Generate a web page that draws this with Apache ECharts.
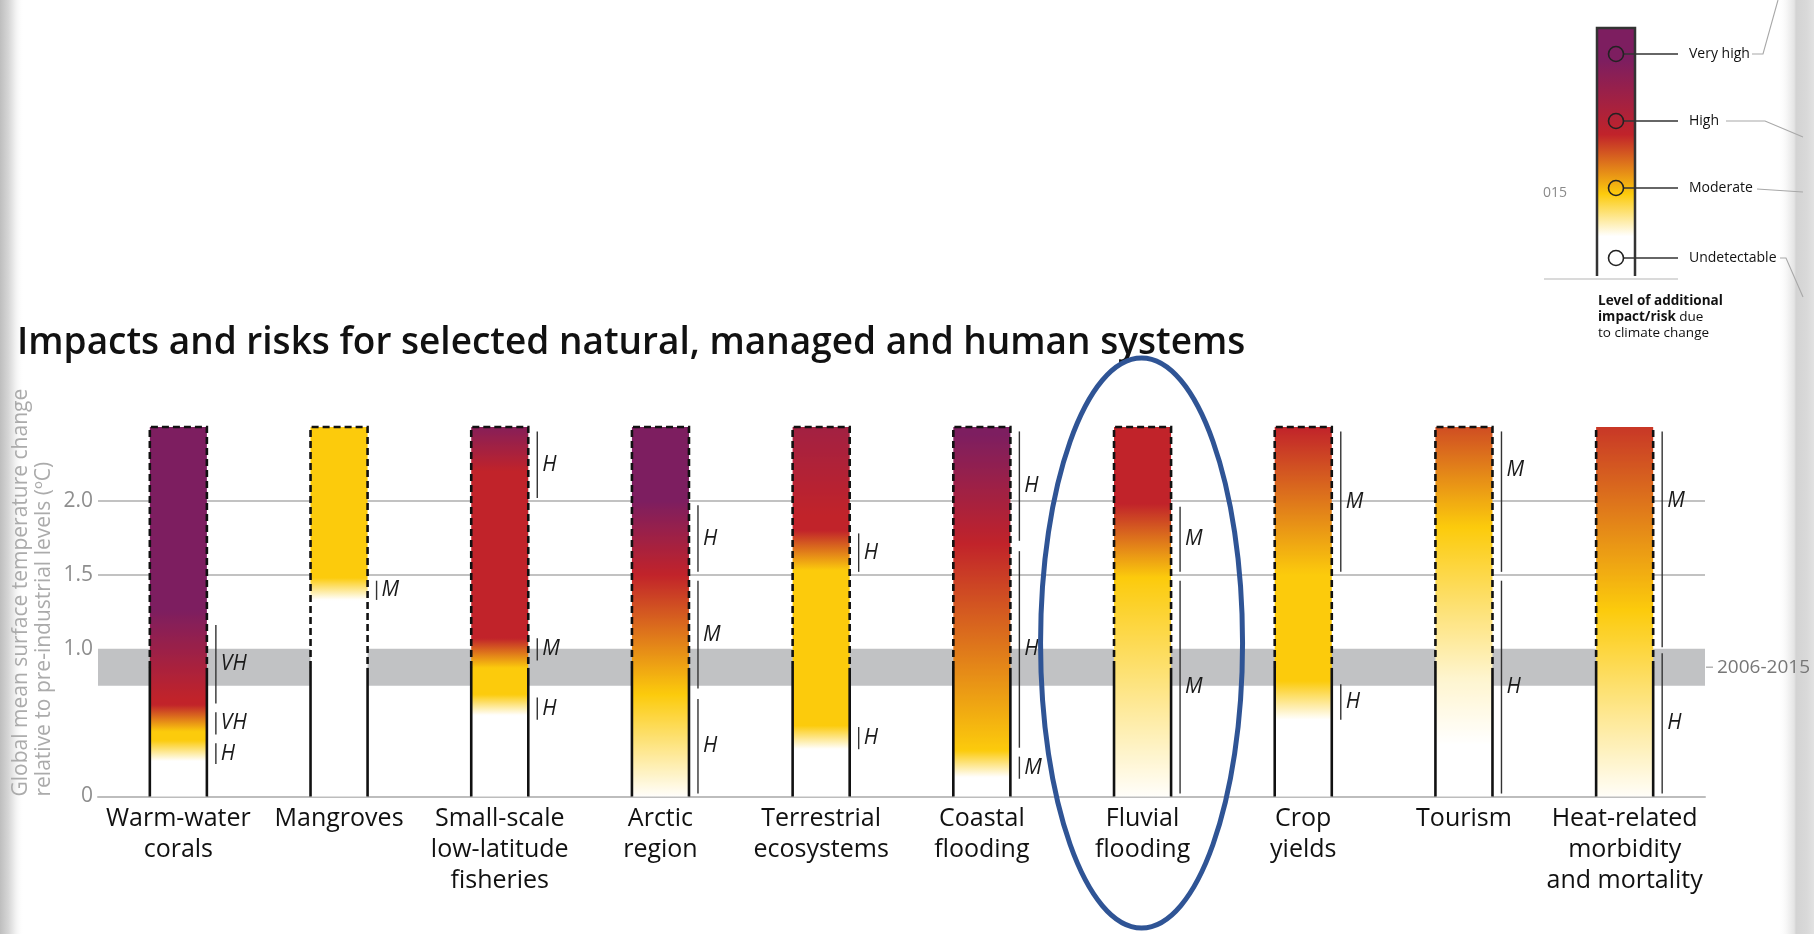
<!DOCTYPE html>
<html><head><meta charset="utf-8">
<script src="https://cdn.jsdelivr.net/npm/echarts@6/dist/echarts.min.js"></script>
<style>html,body{margin:0;padding:0;background:#fff;overflow:hidden}#c{width:1814px;height:934px}</style>
</head><body><div id="c"></div>
<script>
// ---------------- DATA ----------------
const categories = ['Warm-water\ncorals', 'Mangroves', 'Small-scale\nlow-latitude\nfisheries', 'Arctic\nregion',
  'Terrestrial\necosystems', 'Coastal\nflooding', 'Fluvial\nflooding', 'Crop\nyields', 'Tourism',
  'Heat-related\nmorbidity\nand mortality'];
const yTickValues = [0, 1.0, 1.5, 2.0];
const yTickLabels = ['0', '1.0', '1.5', '2.0'];
const gridLineValues = [1.5, 2.0];
const observedRange = [0.75, 1.0];
const observedMean = 0.87;
const observedLabel = '2006-2015';
const barTop = 2.5;
const riskLevels = ['Undetectable', 'Moderate', 'High', 'Very high'];
const closedTop = [true, true, true, true, true, true, true, true, true, false];

// risk level along temperature: [°C, level] (0 undetectable, 1 moderate, 2 high, 3 very high)
const coralsRisk = [[0.24, 0], [0.38, 1], [0.44, 1], [0.62, 2], [0.66, 2], [1.26, 3]];
const mangrovesRisk = [[1.33, 0], [1.48, 1]];
const fisheriesRisk = [[0.55, 0], [0.69, 1], [0.87, 1], [1.07, 2], [2.2, 2], [2.5, 2.85]];
const arcticRisk = [[0, 0.02], [0.69, 1], [1.5, 2], [2.0, 3]];
const terrestrialRisk = [[0.32, 0], [0.48, 1], [1.53, 1], [1.8, 2], [1.9, 2], [2.5, 2.45]];
const coastalRisk = [[0.13, 0], [0.31, 1], [1.71, 2], [2.45, 3]];
const fluvialRisk = [[0, 0.02], [1.48, 1], [1.98, 2]];
const cropRisk = [[0.52, 0], [0.78, 1], [1.5, 1], [2.5, 2]];
const tourismRisk = [[0.35, 0], [0.8, 0.2], [1.82, 1], [2.5, 1.75]];
const heatRisk = [[0, 0.03], [0.58, 0.47], [1.26, 1], [2.5, 1.88]];
const riskStops = [coralsRisk, mangrovesRisk, fisheriesRisk, arcticRisk, terrestrialRisk,
  coastalRisk, fluvialRisk, cropRisk, tourismRisk, heatRisk];

// transition ranges with confidence: [from °C, to °C, confidence, (label at °C)]
const coralsConf = [[0.63, 1.16, 'VH'], [0.42, 0.57, 'VH'], [0.22, 0.36, 'H']];
const mangrovesConf = [[1.33, 1.46, 'M']];
const fisheriesConf = [[2.02, 2.47, 'H'], [0.92, 1.07, 'M'], [0.52, 0.67, 'H']];
const arcticConf = [[1.52, 1.97, 'H'], [0.73, 1.46, 'M'], [0.02, 0.66, 'H']];
const terrestrialConf = [[1.52, 1.78, 'H'], [0.32, 0.47, 'H']];
const coastalConf = [[1.73, 2.47, 'H'], [0.33, 1.66, 'H'], [0.12, 0.27, 'M']];
const fluvialConf = [[1.52, 1.96, 'M'], [0.02, 1.46, 'M']];
const cropConf = [[1.52, 2.47, 'M'], [0.52, 0.76, 'H']];
const tourismConf = [[1.52, 2.47, 'M', 2.21], [0.02, 1.46, 'H']];
const heatConf = [[1.01, 2.47, 'M', 2.0], [0.02, 0.97, 'H']];
const confidenceRanges = [coralsConf, mangrovesConf, fisheriesConf, arcticConf, terrestrialConf,
  coastalConf, fluvialConf, cropConf, tourismConf, heatConf];

const highlightedCategory = 6;

// ---------------- STYLE HELPERS ----------------
const levelColors = [[255, 255, 255], [252, 203, 12], [193, 35, 42], [125, 30, 96]];
function levelColor(l) {
  l = Math.max(0, Math.min(3, l));
  const i = Math.min(2, Math.floor(l)), t = l - i;
  const a = levelColors[i], b = levelColors[i + 1];
  const c = a.map((v, k) => Math.round(v + (b[k] - v) * t));
  return 'rgb(' + c.join(',') + ')';
}
function levelAt(stops, t) {
  if (t <= stops[0][0]) return stops[0][1];
  const last = stops[stops.length - 1];
  if (t >= last[0]) return last[1];
  for (let k = 0; k < stops.length - 1; k++) {
    const a = stops[k], b = stops[k + 1];
    if (t >= a[0] && t <= b[0]) return a[1] + (b[1] - a[1]) * (t - a[0]) / (b[0] - a[0]);
  }
  return last[1];
}
const FONT = '"Open Sans", "Noto Sans", sans-serif';

const chart = echarts.init(document.getElementById('c'), null, {renderer: 'canvas'});

const option = {
  animation: false,
  backgroundColor: '#ffffff',
  grid: {left: 98, right: 109, top: 427, bottom: 137.5},
  xAxis: {
    type: 'category', data: categories, boundaryGap: true,
    axisLine: {show: true, lineStyle: {color: '#BDBDBD', width: 2}},
    axisTick: {show: false},
    axisLabel: {interval: 0, color: '#111', fontSize: 25, lineHeight: 31, margin: 7, fontFamily: FONT},
    splitLine: {show: false}
  },
  yAxis: {
    type: 'value', min: 0, max: barTop, interval: 0.5,
    axisLine: {show: false}, axisTick: {show: false}, splitLine: {show: false},
    axisLabel: {
      color: '#8E8E8E', fontSize: 21, margin: 5, fontFamily: FONT,
      formatter: function (v) {
        const idx = yTickValues.findIndex(t => Math.abs(t - v) < 1e-9);
        return idx >= 0 ? yTickLabels[idx] : '';
      }
    }
  },
  series: [
    {
      type: 'line', data: [], z: 1, silent: true,
      markArea: {
        silent: true, itemStyle: {color: '#C1C2C4'},
        data: [[{yAxis: observedRange[0]}, {yAxis: observedRange[1]}]]
      },
      markLine: {
        silent: true, symbol: 'none', label: {show: false},
        lineStyle: {color: '#C2C2C2', width: 2, type: 'solid'},
        data: gridLineValues.map(v => ({yAxis: v}))
      }
    },
    {
      type: 'custom', z: 5, silent: true,
      data: categories.map((c, i) => [i]),
      renderItem: function (params, api) {
        const i = api.value(0);
        const base = api.coord([i, 0]);
        const cx = base[0], y0 = base[1];
        const yTop = api.coord([i, barTop])[1];
        const yObs = api.coord([i, observedMean])[1];
        const w = api.size([1, 0])[0] * 0.355;
        const xl = cx - w / 2, xr = cx + w / 2;
        const stops = riskStops[i];
        const grad = [];
        const N = 240;
        for (let k = 0; k <= N; k++) {
          const t = barTop * (1 - k / N);
          grad.push({offset: k / N, color: levelColor(levelAt(stops, t))});
        }
        const dashStyle = {stroke: '#111', lineWidth: 2.6, lineDash: [7, 4], fill: null};
        const children = [
          {type: 'rect', shape: {x: xl, y: yTop, width: w, height: y0 - yTop},
            style: {fill: {type: 'linear', x: 0, y: 0, x2: 0, y2: 1, colorStops: grad}}},
          {type: 'line', shape: {x1: xl, y1: y0, x2: xl, y2: yObs}, style: {stroke: '#111', lineWidth: 2.6}},
          {type: 'line', shape: {x1: xr, y1: y0, x2: xr, y2: yObs}, style: {stroke: '#111', lineWidth: 2.6}}
        ];
        if (closedTop[i]) {
          children.push({type: 'polyline', shape: {points: [[xl, yObs], [xl, yTop], [xr, yTop], [xr, yObs]]}, style: dashStyle});
        } else {
          children.push({type: 'line', shape: {x1: xl, y1: yObs, x2: xl, y2: yTop}, style: dashStyle});
          children.push({type: 'line', shape: {x1: xr, y1: yObs, x2: xr, y2: yTop}, style: dashStyle});
        }
        confidenceRanges[i].forEach(function (r) {
          const ya = api.coord([i, r[1]])[1], yb = api.coord([i, r[0]])[1];
          const yl = r.length > 3 ? api.coord([i, r[3]])[1] : (ya + yb) / 2;
          const bx = xr + 9;
          children.push({type: 'line', shape: {x1: bx, y1: ya, x2: bx, y2: yb},
            style: {stroke: '#333', lineWidth: 1.4}});
          children.push({type: 'text', style: {x: bx + 5, y: yl, text: r[2],
            font: 'italic 21px ' + FONT, fill: '#1a1a1a', align: 'left', verticalAlign: 'middle'}});
        });
        return {type: 'group', children: children};
      }
    }
  ]
};
chart.setOption(option);

// ---------------- ANNOTATIONS ----------------
const xAxisEnd = 1814 - 109;
const bandMidY = chart.convertToPixel({gridIndex: 0}, [0, (observedRange[0] + observedRange[1]) / 2])[1];
const zeroY = chart.convertToPixel({gridIndex: 0}, [0, 0])[1];
const fluvialX = chart.convertToPixel({gridIndex: 0}, [highlightedCategory, 0])[0];

const legendBar = {x: 1597, y: 28, w: 38, h: 248};
const legendCircleY = [54, 121, 188, 258];
const legendGrad = [
  {offset: 0, color: levelColor(3)}, {offset: 0.13, color: levelColor(3)},
  {offset: 0.43, color: levelColor(2)}, {offset: 0.67, color: levelColor(1)},
  {offset: 0.84, color: levelColor(0)}, {offset: 1, color: levelColor(0)}
];
const legendLabels = riskLevels.slice().reverse();

const graphics = [
  // page shading at edges
  {type: 'rect', shape: {x: 0, y: 0, width: 24, height: 934}, silent: true, z: 0,
    style: {fill: {type: 'linear', x: 0, y: 0, x2: 1, y2: 0, colorStops: [
      {offset: 0, color: '#BEBEBE'}, {offset: 0.35, color: '#D6D6D6'}, {offset: 0.6, color: '#EDEDED'}, {offset: 1, color: 'rgba(255,255,255,0)'}]}}},
  {type: 'rect', shape: {x: 1778, y: 0, width: 36, height: 934}, silent: true, z: 0,
    style: {fill: {type: 'linear', x: 0, y: 0, x2: 1, y2: 0, colorStops: [
      {offset: 0, color: 'rgba(255,255,255,0)'}, {offset: 0.3, color: '#F1F1F1'}, {offset: 0.45, color: '#E4E4E4'},
      {offset: 0.5, color: '#D3D3D3'}, {offset: 0.8, color: '#D9D9D9'}, {offset: 1, color: '#E2E2E2'}]}}},
  // title
  {type: 'text', x: 17, y: 343, silent: true, z: 10,
    style: {text: 'Impacts and risks for selected natural, managed and human systems',
      font: '600 37px ' + FONT, fill: '#111', align: 'left', verticalAlign: 'middle'}},
  // y axis name
  {type: 'text', x: 33, y: zeroY, rotation: Math.PI / 2, silent: true, z: 10,
    style: {text: 'Global mean surface temperature change\nrelative to pre-industrial levels (ºC)',
      font: '21px ' + FONT, lineHeight: 23, fill: '#ABABAB', align: 'left', verticalAlign: 'middle'}},
  // observed period label
  {type: 'line', shape: {x1: xAxisEnd + 1, y1: bandMidY, x2: xAxisEnd + 8, y2: bandMidY}, silent: true, z: 10,
    style: {stroke: '#A0A0A0', lineWidth: 1.2}},
  {type: 'text', x: xAxisEnd + 12, y: bandMidY, silent: true, z: 10,
    style: {text: observedLabel, font: '19px ' + FONT, fill: '#777', align: 'left', verticalAlign: 'middle'}},
  // highlight ellipse
  {type: 'ellipse', shape: {cx: fluvialX - 1, cy: 643, rx: 101, ry: 285}, silent: true, z: 20,
    style: {stroke: '#2F5495', lineWidth: 5, fill: null}},
  // legend bar
  {type: 'rect', shape: {x: legendBar.x, y: legendBar.y, width: legendBar.w, height: legendBar.h}, silent: true, z: 10,
    style: {fill: {type: 'linear', x: 0, y: 0, x2: 0, y2: 1, colorStops: legendGrad}}},
  {type: 'polyline', silent: true, z: 11,
    shape: {points: [[legendBar.x, legendBar.y + legendBar.h], [legendBar.x, legendBar.y],
      [legendBar.x + legendBar.w, legendBar.y], [legendBar.x + legendBar.w, legendBar.y + legendBar.h]]},
    style: {stroke: '#333', lineWidth: 2.5, fill: null}},
  {type: 'line', shape: {x1: 1544, y1: 279, x2: 1678, y2: 279}, silent: true, z: 10, style: {stroke: '#B5B5B5', lineWidth: 1.2}},
  {type: 'text', x: 1543, y: 193, silent: true, z: 10,
    style: {text: '015', font: '14px ' + FONT, fill: '#8A8A8A', align: 'left', verticalAlign: 'middle'}},
  {type: 'text', x: 1598, y: 293, silent: true, z: 10,
    style: {text: '{b|Level of additional}\n{b|impact/risk} due\nto climate change', font: '13.5px ' + FONT,
      lineHeight: 16, fill: '#111', align: 'left', verticalAlign: 'top',
      rich: {b: {fontWeight: 700, fontSize: 13.5, fontFamily: FONT, fill: '#111', lineHeight: 16}}}},
  // leader lines to the right
  {type: 'polyline', silent: true, z: 10, shape: {points: [[1752, 54], [1763, 54], [1778, 0]]}, style: {stroke: '#A8A8A8', lineWidth: 1.1, fill: null}},
  {type: 'polyline', silent: true, z: 10, shape: {points: [[1726, 121], [1765, 121], [1803, 137]]}, style: {stroke: '#A8A8A8', lineWidth: 1.1, fill: null}},
  {type: 'polyline', silent: true, z: 10, shape: {points: [[1757, 189], [1803, 192]]}, style: {stroke: '#A8A8A8', lineWidth: 1.1, fill: null}},
  {type: 'polyline', silent: true, z: 10, shape: {points: [[1780, 258], [1786, 258], [1803, 297]]}, style: {stroke: '#A8A8A8', lineWidth: 1.1, fill: null}}
];
legendCircleY.forEach(function (cy, k) {
  graphics.push({type: 'line', silent: true, z: 12, shape: {x1: 1624, y1: cy, x2: 1678, y2: cy}, style: {stroke: '#333', lineWidth: 1.5}});
  graphics.push({type: 'circle', silent: true, z: 12, shape: {cx: 1616, cy: cy, r: 7.5}, style: {stroke: '#222', lineWidth: 1.6, fill: null}});
  graphics.push({type: 'text', x: 1689, y: cy, silent: true, z: 12,
    style: {text: legendLabels[k], font: '14px ' + FONT, fill: '#111', align: 'left', verticalAlign: 'middle'}});
});
chart.setOption({graphic: graphics});
</script></body></html>
